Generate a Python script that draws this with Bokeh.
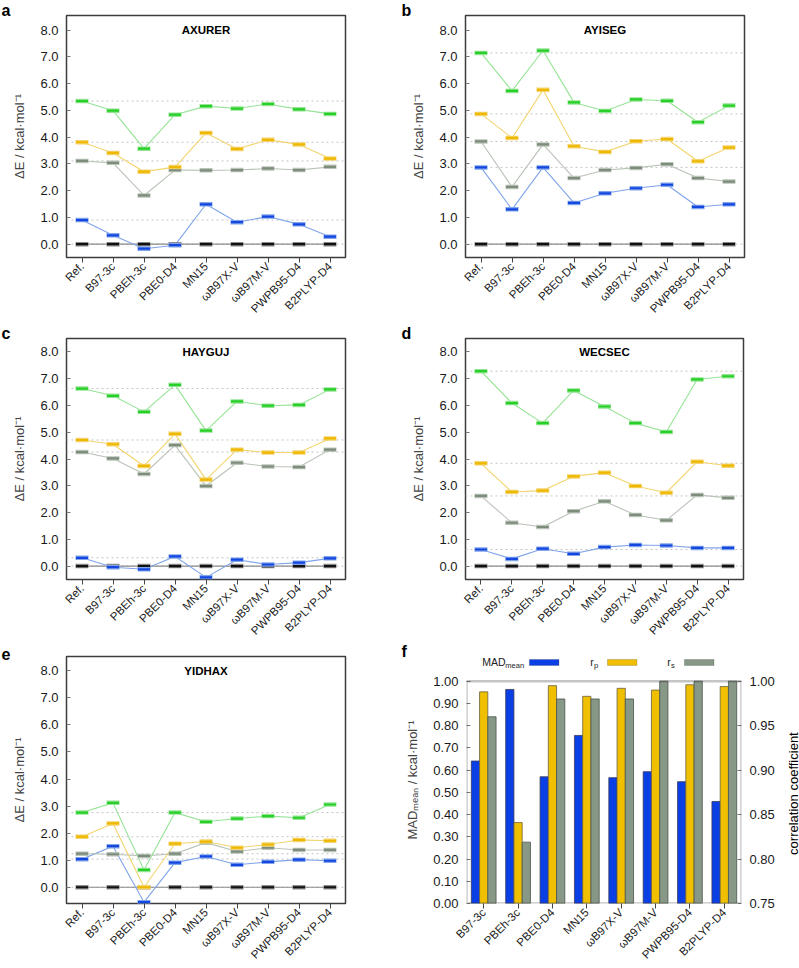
import math
from bokeh.plotting import figure
from bokeh.models import (Range1d, FactorRange, Span, Label, LinearAxis, BoxAnnotation,
                          FixedTicker, NumeralTickFormatter, ColumnDataSource)
from bokeh.layouts import column, row
from bokeh.transform import dodge
from bokeh.embed import file_html
from bokeh.resources import INLINE

# ---------------- data ----------------
methods = ["Ref.", "B97-3c", "PBEh-3c", "PBE0-D4", "MN15", "ωB97X-V", "ωB97M-V", "PWPB95-D4", "B2PLYP-D4"]
bar_methods = ["B97-3c", "PBEh-3c", "PBE0-D4", "MN15", "ωB97X-V", "ωB97M-V", "PWPB95-D4", "B2PLYP-D4"]

zero_level = [0.0, 0.0, 0.0, 0.0, 0.0, 0.0, 0.0, 0.0, 0.0]

axurer_blue = [0.90, 0.33, -0.17, -0.04, 1.49, 0.82, 1.03, 0.74, 0.28]
axurer_gray = [3.11, 3.04, 1.82, 2.77, 2.76, 2.77, 2.83, 2.77, 2.89]
axurer_yellow = [3.81, 3.41, 2.71, 2.88, 4.16, 3.56, 3.90, 3.73, 3.20]
axurer_green = [5.35, 4.99, 3.57, 4.84, 5.16, 5.07, 5.24, 5.04, 4.87]

ayiseg_blue = [2.87, 1.30, 2.87, 1.54, 1.90, 2.09, 2.22, 1.39, 1.49]
ayiseg_gray = [3.84, 2.14, 3.73, 2.47, 2.77, 2.85, 2.99, 2.47, 2.34]
ayiseg_yellow = [4.87, 3.97, 5.77, 3.66, 3.45, 3.85, 3.93, 3.10, 3.61]
ayiseg_green = [7.15, 5.73, 7.24, 5.30, 4.98, 5.41, 5.36, 4.56, 5.18]

hayguj_blue = [0.31, -0.04, -0.12, 0.36, -0.42, 0.24, 0.06, 0.13, 0.29]
hayguj_gray = [4.26, 4.02, 3.44, 4.52, 2.99, 3.86, 3.72, 3.70, 4.35]
hayguj_yellow = [4.71, 4.55, 3.74, 4.94, 3.23, 4.35, 4.24, 4.24, 4.77]
hayguj_green = [6.63, 6.36, 5.76, 6.77, 5.06, 6.15, 5.99, 6.02, 6.60]

wecsec_blue = [0.62, 0.27, 0.65, 0.46, 0.71, 0.79, 0.77, 0.68, 0.68]
wecsec_gray = [2.62, 1.62, 1.46, 2.05, 2.42, 1.91, 1.71, 2.66, 2.55]
wecsec_yellow = [3.84, 2.77, 2.82, 3.35, 3.49, 2.99, 2.74, 3.90, 3.75]
wecsec_green = [7.28, 6.09, 5.34, 6.56, 5.96, 5.34, 5.01, 6.97, 7.09]

yidhax_blue = [1.04, 1.52, -0.55, 0.91, 1.14, 0.83, 0.94, 1.02, 0.98]
yidhax_gray = [1.24, 1.22, 1.16, 1.24, 1.65, 1.32, 1.46, 1.38, 1.38]
yidhax_yellow = [1.87, 2.36, 0.00, 1.61, 1.69, 1.46, 1.58, 1.75, 1.72]
yidhax_green = [2.76, 3.12, 0.64, 2.76, 2.42, 2.54, 2.63, 2.57, 3.06]

mad_mean = [0.641, 0.963, 0.570, 0.756, 0.566, 0.593, 0.548, 0.459]
r_p = [0.988, 0.841, 0.995, 0.983, 0.992, 0.990, 0.996, 0.994]
r_s = [0.960, 0.819, 0.980, 0.980, 0.980, 1.000, 1.000, 1.000]

y_ticks = [0, 1, 2, 3, 4, 5, 6, 7, 8]
mad_ticks = [0.0, 0.1, 0.2, 0.3, 0.4, 0.5, 0.6, 0.7, 0.8, 0.9, 1.0]
corr_ticks = [0.75, 0.80, 0.85, 0.90, 0.95, 1.00]
mad_top, corr_bottom, corr_top = 1.0, 0.75, 1.0

# ---------------- styles ----------------
FONT = "Liberation Sans"
MARK = {"black": "#111111", "blue": "#1446e0", "gray": "#7d8c7b", "yellow": "#efb800", "green": "#27d027"}
LINE = {"black": "#8a8a8a", "blue": "#7fa4ea", "gray": "#b9c3b7", "yellow": "#f3d46e", "green": "#95e495"}
BAR = {"mad": "#0a3fe6", "rp": "#f0c000", "rs": "#879886"}
FRAME = "#3c3c3c"


def base_style(p, letter, bl):
    p.xgrid.visible = False
    p.ygrid.visible = False
    p.axis.axis_line_color = None
    p.outline_line_color = FRAME
    p.outline_line_width = 1.5
    p.background_fill_color = "white"
    p.border_fill_color = "white"
    p.xaxis.major_tick_out = 5
    p.xaxis.major_tick_in = 0
    p.xaxis.major_tick_line_color = "#444444"
    p.xaxis.major_label_orientation = math.pi / 4
    p.xaxis.major_label_text_font = FONT
    p.xaxis.major_label_text_font_size = "11.5px"
    p.xaxis.major_label_text_color = "#1a1a1a"
    p.xaxis.major_label_standoff = 2
    p.yaxis.major_tick_in = 4
    p.yaxis.major_tick_out = 0
    p.yaxis.minor_tick_line_color = None
    p.yaxis.major_tick_line_color = "#777777"
    p.yaxis.major_label_text_font = FONT
    p.yaxis.major_label_text_font_size = "13px"
    p.yaxis.major_label_text_color = "#1a1a1a"
    p.yaxis.major_label_standoff = 8
    p.yaxis.axis_label_text_font = FONT
    p.yaxis.axis_label_text_font_size = "13px"
    p.yaxis.axis_label_text_font_style = "normal"
    p.yaxis.axis_label_standoff = 10
    # panel letter as the (left-shifted) title
    p.title.text = letter
    p.title.text_font = FONT
    p.title.text_font_size = "16px"
    p.title.text_font_style = "bold"
    p.title.align = "left"
    p.title.offset = -bl + 1
    p.title.standoff = -7
    p.title.text_color = "black"


def energy_panel(name, tag, series, ymin, ymax, w, h, bl, br, bt, bb):
    p = figure(width=w, height=h, x_range=FactorRange(*methods), y_range=Range1d(ymin, ymax),
               output_backend="svg", toolbar_location=None,
               min_border_left=bl, min_border_right=br, min_border_top=bt, min_border_bottom=bb)
    base_style(p, tag, bl)
    p.yaxis.ticker = FixedTicker(ticks=y_ticks)
    p.yaxis.formatter = NumeralTickFormatter(format="0.0")
    p.yaxis.axis_label = "ΔE / kcal·mol⁻¹"
    for key, vals in series:
        p.add_layout(Span(location=vals[0], dimension="width", line_color="#c4c4c4",
                          line_dash="2 3", line_width=1, level="underlay"))
    for key, vals in series:
        p.line(methods, vals, line_color=LINE[key], line_width=1.1)
    for key, vals in series:
        p.scatter(methods, vals, marker="dash", size=13, line_color=LINE[key], line_width=4.5)
        p.scatter(methods, vals, marker="dash", size=12, line_color=MARK[key], line_width=2.2)
    p.add_layout(Label(x=4.5, y=8.0, text=name, text_font=FONT, text_font_size="11.5px",
                       text_font_style="bold", text_align="center", text_baseline="middle",
                       text_color="black"))
    return p


pa = energy_panel("AXURER", "a",
                  [("black", zero_level), ("blue", axurer_blue), ("gray", axurer_gray),
                   ("yellow", axurer_yellow), ("green", axurer_green)],
                  -0.5, 8.55, 400, 322, 66, 55, 15, 57)
pb = energy_panel("AYISEG", "b",
                  [("black", zero_level), ("blue", ayiseg_blue), ("gray", ayiseg_gray),
                   ("yellow", ayiseg_yellow), ("green", ayiseg_green)],
                  -0.5, 8.55, 399, 322, 65, 55, 15, 57)
pc = energy_panel("HAYGUJ", "c",
                  [("black", zero_level), ("blue", hayguj_blue), ("gray", hayguj_gray),
                   ("yellow", hayguj_yellow), ("green", hayguj_green)],
                  -0.5, 8.5, 400, 322, 66, 55, 16, 58)
pd_ = energy_panel("WECSEC", "d",
                   [("black", zero_level), ("blue", wecsec_blue), ("gray", wecsec_gray),
                    ("yellow", wecsec_yellow), ("green", wecsec_green)],
                   -0.5, 8.5, 399, 322, 65, 56, 16, 58)
pe = energy_panel("YIDHAX", "e",
                  [("black", zero_level), ("blue", yidhax_blue), ("gray", yidhax_gray),
                   ("yellow", yidhax_yellow), ("green", yidhax_green)],
                  -0.6, 8.53, 400, 324, 66, 55, 12, 62)

# ---------------- panel f ----------------
# the plotting frame is extended upwards (headroom) so that the legend sits above the box
fbl, fbt, fbb, fh = 66, 12, 62, 324
f_frame_h = fh - fbt - fbb
box_px = 225.0                      # height of the drawn box in pixels
head = f_frame_h / box_px           # data-range factor
pf = figure(width=386, height=fh, x_range=FactorRange(*bar_methods),
            y_range=Range1d(0, mad_top * head),
            output_backend="svg", toolbar_location=None,
            min_border_left=fbl, min_border_right=45, min_border_top=fbt, min_border_bottom=fbb)
pf.extra_y_ranges = {"corr": Range1d(corr_bottom, corr_bottom + (corr_top - corr_bottom) * head)}
base_style(pf, "f", fbl)
pf.outline_line_color = None
pf.yaxis.ticker = FixedTicker(ticks=mad_ticks)
pf.yaxis.formatter = NumeralTickFormatter(format="0.00")
pf.yaxis.axis_label = "MADₘₑₐₙ / kcal·mol⁻¹"

src = ColumnDataSource(dict(m=bar_methods, mad=mad_mean, rp=r_p, rs=r_s))
bw = 0.24
pf.vbar(x=dodge("m", -bw, range=pf.x_range), top="mad", bottom=0, width=bw, source=src,
        fill_color=BAR["mad"], line_color="#3a3a5a", line_width=0.8)
pf.vbar(x=dodge("m", 0, range=pf.x_range), top="rp", bottom=corr_bottom, width=bw, source=src,
        y_range_name="corr", fill_color=BAR["rp"], line_color="#6a6040", line_width=0.8)
pf.vbar(x=dodge("m", bw, range=pf.x_range), top="rs", bottom=corr_bottom, width=bw, source=src,
        y_range_name="corr", fill_color=BAR["rs"], line_color="#4a544a", line_width=0.8)

# box drawn around the 0..1 data area
pf.add_layout(BoxAnnotation(bottom=0, top=mad_top, fill_alpha=0, line_color=FRAME,
                            line_width=2.4, level="overlay"))

rax = LinearAxis(y_range_name="corr", ticker=FixedTicker(ticks=corr_ticks),
                 formatter=NumeralTickFormatter(format="0.00"))
rax.axis_line_color = None
rax.major_tick_in = 4
rax.major_tick_out = 0
rax.minor_tick_line_color = None
rax.major_tick_line_color = "#777777"
rax.major_label_text_font = FONT
rax.major_label_text_font_size = "13px"
rax.major_label_text_color = "#1a1a1a"
rax.major_label_standoff = 8
pf.add_layout(rax, "right")

# legend above the box (label first, then a colour bar)
px = mad_top * head / f_frame_h     # data units per pixel (vertical)
ly = mad_top + 19 * px
legend_items = [("MAD", "mean", 0.46, 1.13, 1.83, BAR["mad"], "#3a3a5a"),
                ("r", "p", 3.60, 3.71, 4.10, BAR["rp"], "#6a6040"),
                ("r", "s", 5.84, 5.95, 6.34, BAR["rs"], "#4a544a")]
for main, sub, xt, xs, xb, col, lc in legend_items:
    pf.add_layout(Label(x=xt, y=ly, text=main, text_font=FONT, text_font_size="10.5px",
                        text_baseline="middle", text_color="#222222"))
    pf.add_layout(Label(x=xs, y=ly - 3.5 * px, text=sub, text_font=FONT, text_font_size="7.5px",
                        text_baseline="middle", text_color="#222222"))
    pf.add_layout(BoxAnnotation(left=xb, right=xb + 0.86, bottom=ly - 3 * px, top=ly + 3 * px,
                                fill_color=col, fill_alpha=1.0, line_color=lc, line_width=1))

# title of the right-hand axis, reading bottom-to-top, in a narrow strip
pr = figure(width=13, height=fh, x_range=Range1d(0, 1), y_range=Range1d(0, 1),
            output_backend="svg", toolbar_location=None,
            min_border_left=0, min_border_right=0, min_border_top=fbt, min_border_bottom=fbb)
pr.axis.visible = False
pr.xgrid.visible = False
pr.ygrid.visible = False
pr.outline_line_color = None
pr.background_fill_color = "white"
pr.border_fill_color = "white"
pr.add_layout(Label(x=0.5, y=0.445, text="correlation coefficient", angle=math.pi / 2,
                    text_font=FONT, text_font_size="13px", text_align="center",
                    text_baseline="middle", text_color="black"))

layout = column(row(pa, pb), row(pc, pd_), row(pe, pf, pr))
open("out.html", "w").write(file_html(layout, INLINE))
